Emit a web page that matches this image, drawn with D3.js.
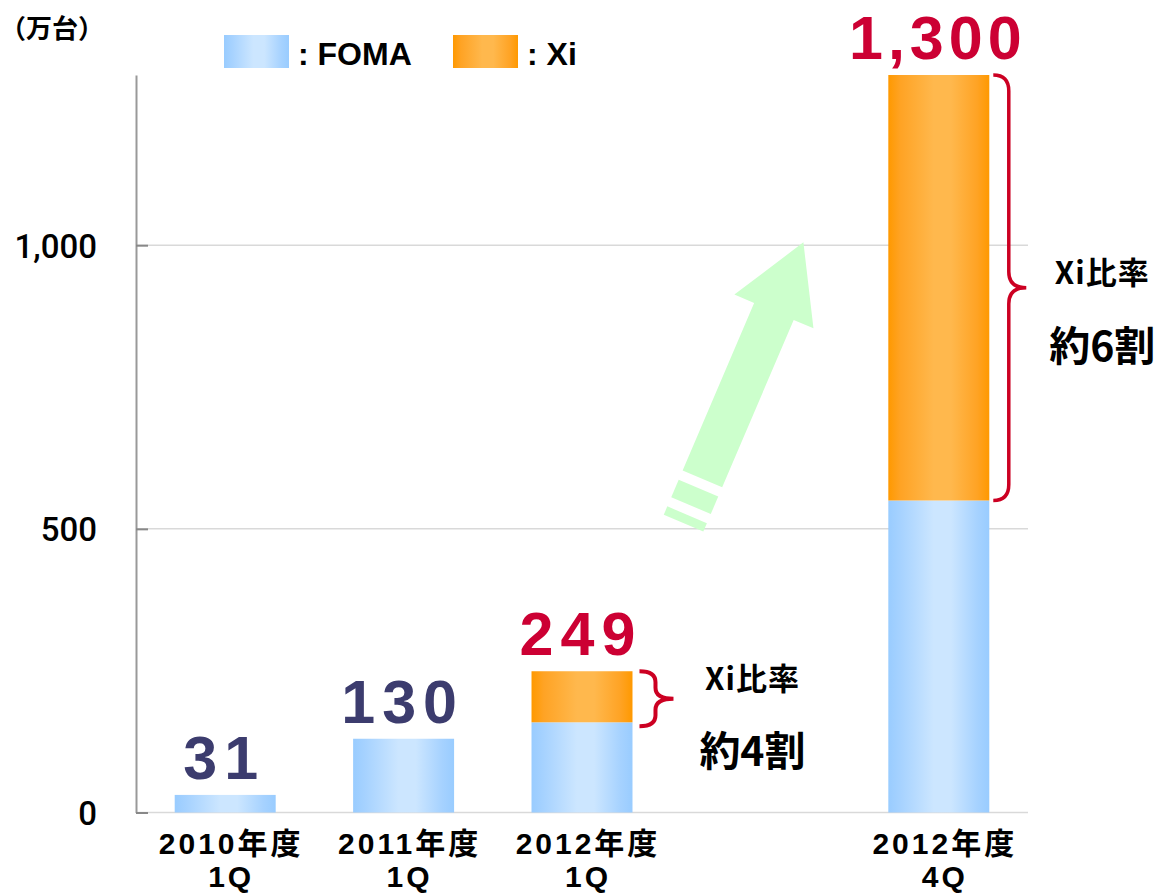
<!DOCTYPE html>
<html><head><meta charset="utf-8">
<script src="https://cdn.jsdelivr.net/npm/d3@7"></script>
<style>body{margin:0;background:#fff;} svg{display:block;}</style>
</head><body>
<svg id="chart" width="1170" height="893"></svg>
<script>
// ---- data ----
const categoryYears = ["2010年度", "2011年度", "2012年度", "2012年度"];
const categoryQuarters = ["1Q", "1Q", "1Q", "4Q"];
const fomaValues = [31, 130, 159, 550];
const xiValues = [0, 0, 90, 750];
const totalLabels = ["31", "130", "249", "1,300"];
const yTicks = [0, 500, 1000];
const xiShareLabels = ["", "", "約4割", "約6割"];
const seriesNames = ["FOMA", "Xi"];
const unitLabel = "（万台）";

// ---- layout ----
const svg = d3.select("#chart");
const categories = categoryYears.map((y, i) => y + " " + categoryQuarters[i]);
const GAP = "__gap__";
const slots = [categories[0], categories[1], categories[2], GAP, categories[3]];

const x = d3.scaleBand().domain(slots).range([136, 1028]).paddingInner(0.434).paddingOuter(0.217);
const y = d3.scaleLinear().domain([0, 1300]).range([812.5, 75]);

const defs = svg.append("defs");
function grad(id, edge, mid, light) {
  const g = defs.append("linearGradient").attr("id", id).attr("x1", "0%").attr("x2", "100%").attr("y1", "0%").attr("y2", "0%");
  [[0, edge], [0.12, mid], [0.45, light], [0.62, light], [0.88, mid], [1, edge]].forEach(s =>
    g.append("stop").attr("offset", s[0]).attr("stop-color", s[1]));
}
grad("gFoma", "#99ccff", "#a6d2ff", "#cce6ff");
grad("gXi", "#ff9900", "#ffa324", "#ffb84d");
const fills = { FOMA: "url(#gFoma)", Xi: "url(#gXi)" };

// gridlines
svg.append("g").selectAll("line").data(yTicks).join("line")
  .attr("x1", 136).attr("x2", 1028)
  .attr("y1", d => y(d)).attr("y2", d => y(d))
  .attr("stroke", "#d9d9d9").attr("stroke-width", 1.5);

// arrow annotation (in data space around the empty slot)
(function () {
  const cx = x(GAP) + x.bandwidth() / 2;
  const tail = [cx - 58, y(588)], tip = [cx + 43, y(1005)];
  const dx = tip[0] - tail[0], dy = tip[1] - tail[1];
  const L = Math.hypot(dx, dy);
  const u = [dx / L, dy / L], v = [-u[1], u[0]];
  const P = (a, b) => [tail[0] + u[0] * a + v[0] * b, tail[1] + u[1] * a + v[1] * b];
  const headBase = L * 0.708, sw = 21.5, hw = 43;
  const shapes = [
    [P(0, -sw), P(headBase, -sw), P(headBase, -hw), P(L, 0), P(headBase, hw), P(headBase, sw), P(0, sw)],
    [P(-10, -sw), P(-10, sw), P(-29, sw), P(-29, -sw)],
    [P(-39, -sw), P(-39, sw), P(-48, sw), P(-48, -sw)]
  ];
  svg.append("g").selectAll("polygon").data(shapes).join("polygon")
    .attr("points", d => d.map(p => p.join(",")).join(" "))
    .attr("fill", "#ccffcc");
})();

// stacked bars
const rows = categories.map((c, i) => ({ cat: c, FOMA: fomaValues[i], Xi: xiValues[i] }));
const stack = d3.stack().keys(seriesNames)(rows);
svg.append("g").selectAll("g").data(stack).join("g")
  .attr("fill", d => fills[d.key])
  .selectAll("rect").data(d => d.filter(s => s[1] > s[0])).join("rect")
  .attr("x", d => x(d.data.cat))
  .attr("width", x.bandwidth())
  .attr("y", d => y(d[1]))
  .attr("height", d => y(d[0]) - y(d[1]));

// y axis
const yAxis = d3.axisLeft(y).tickValues(yTicks).tickSize(-12).tickSizeOuter(0).tickPadding(39).tickFormat(d3.format(","));
const ag = svg.append("g").attr("transform", "translate(136,0)").call(yAxis);
ag.select(".domain").attr("stroke", "#999").attr("stroke-width", 2);
ag.selectAll(".tick line").attr("stroke", "#888").attr("stroke-width", 2);
ag.selectAll(".tick text").attr("fill", "#000")
  .style("font-family", "Roboto, 'Liberation Sans', sans-serif").style("font-weight", 500).style("font-size", "33px")
  .attr("dy", "0.36em");

// x labels (two lines, separate texts)
const xg = svg.append("g")
  .style("font-family", "'Liberation Sans', 'Noto Sans CJK JP', sans-serif").style("font-weight", 700).style("font-size", "30px")
  .style("letter-spacing", "3px").attr("fill", "#000").attr("text-anchor", "middle");
xg.selectAll("text.yr").data(categories).join("text").attr("class", "yr")
  .attr("x", d => x(d) + x.bandwidth() / 2 + 6).attr("y", 854).text((d, i) => categoryYears[i]);
xg.selectAll("text.q").data(categories).join("text").attr("class", "q")
  .attr("x", d => x(d) + x.bandwidth() / 2 + 6).attr("y", 887).text((d, i) => categoryQuarters[i]);

// total labels
svg.append("g").selectAll("text").data(rows).join("text")
  .attr("text-anchor", "middle")
  .attr("x", (d, i) => x(d.cat) + x.bandwidth() / 2 - 1)
  .attr("y", d => y(d.FOMA + d.Xi) - 16)
  .attr("fill", d => d.Xi > 0 ? "#cc0033" : "#3c3c6e")
  .style("font-family", "'Liberation Sans', Arial, sans-serif").style("font-weight", 700).style("font-size", "61px")
  .style("letter-spacing", (d, i) => totalLabels[i].length > 3 ? "5px" : "7px")
  .text((d, i) => totalLabels[i]);

// braces + share labels
function bracePath(xl, xr, y0, y1, r) {
  const xm = (xl + xr) / 2 - 1, ym = (y0 + y1) / 2;
  return `M${xl},${y0} Q${xm},${y0} ${xm},${y0 + r} L${xm},${ym - r} Q${xm},${ym} ${xr},${ym} ` +
         `Q${xm},${ym} ${xm},${ym + r} L${xm},${y1 - r} Q${xm},${y1} ${xl},${y1}`;
}
const withXi = rows.map((d, i) => ({ ...d, i })).filter(d => d.Xi > 0);
const bg = svg.append("g");
withXi.forEach(d => {
  const right = x(d.cat) + x.bandwidth();
  const big = y(d.FOMA) - y(d.FOMA + d.Xi) > 150;
  const xl0 = right + (big ? 4 : 7), xr0 = right + (big ? 37 : 41);
  const y0 = y(d.FOMA + d.Xi), y1 = y(d.FOMA) + (big ? 0 : 4);
  bg.append("path").attr("d", bracePath(xl0, xr0, y0, y1, big ? 16 : 11))
    .attr("fill", "none").attr("stroke", "#cc0022").attr("stroke-width", big ? 3.5 : 4);
  const tx = big ? right + 113 : right + 120;
  const ym = (y0 + y1) / 2;
  bg.append("text").attr("x", tx).attr("y", big ? ym - 4 : ym - 9).attr("text-anchor", "middle")
    .style("font-family", "'Noto Sans CJK JP', sans-serif").style("font-weight", 700).style("font-size", "31px")
    .style("letter-spacing", "1px").text("Xi比率");
  bg.append("text").attr("x", tx).attr("y", big ? ym + 73 : ym + 67).attr("text-anchor", "middle")
    .style("font-family", "'Noto Sans CJK JP', sans-serif").style("font-weight", 700).style("font-size", "41px")
    .text(xiShareLabels[d.i]);
});

// unit label
svg.append("text").attr("x", 0).attr("y", 38)
  .style("font-family", "'Noto Sans CJK JP', sans-serif").style("font-weight", 700).style("font-size", "26px")
  .text(unitLabel);

// legend
const legendX = [224, 453];
const lg = svg.append("g").selectAll("g").data(seriesNames).join("g")
  .attr("transform", (d, i) => `translate(${legendX[i]},35)`);
lg.append("rect").attr("width", 65).attr("height", 33).attr("fill", d => fills[d]);
lg.append("text").attr("x", 74).attr("y", 30)
  .style("font-family", "'Liberation Sans', Arial, sans-serif").style("font-weight", 700).style("font-size", "32px")
  .text(d => ": " + d);
</script>
</body></html>
